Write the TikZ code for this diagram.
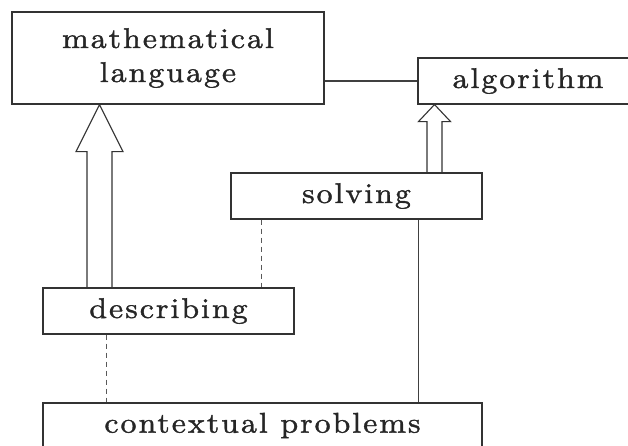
\documentclass[tikz,border=0pt]{standalone}
\usepackage{fontspec}
\setmainfont{lmroman10-regular.otf}[LetterSpace=7,FakeStretch=1.12,FakeBold=1.3]
\usetikzlibrary{calc}
\newcommand\hollowarr[5]{%
  \draw[hollow] ($(#1)+(-#3,0)$) -- ($(#2)+(-#3,#5)$) -- ($(#2)+(-#4,#5)$) -- (#2)
    -- ($(#2)+(#4,#5)$) -- ($(#2)+(#3,#5)$) -- ($(#1)+(#3,0)$);}
\begin{document}
\begin{tikzpicture}[x=1pt,y=-1pt,
  box/.style={draw=black!80,line width=1.1pt,inner sep=0pt,align=center,text=black!85,
    font=\fontsize{28.5}{34}\selectfont},
  link/.style={draw=black!75,line width=1.1pt},
  dashlink/.style={link,draw=black!65,line width=1.3pt,dash pattern=on 5pt off 4pt},
  hollow/.style={draw=black!80,line width=1.1pt,line join=miter}]
\useasboundingbox (0,0) rectangle (628,445);
\clip (0,0) rectangle (628,445);
\node[box,minimum width=312pt,minimum height=92pt] (math) at (168,58) {mathematical\\language};
\node[box,minimum width=220pt,minimum height=46pt] (alg) at (528,81) {algorithm};
\node[box,minimum width=251pt,minimum height=46pt] (solv) at (356.5,196) {solving};
\node[box,minimum width=251pt,minimum height=46pt] (desc) at (168.5,311) {describing};
\node[box,minimum width=439pt,minimum height=45pt] (ctx) at (262.5,425.5) {contextual problems};
% hollow arrows
\coordinate (a1) at (99.5,0);
\coordinate (a1b) at (a1 |- desc.north);
\coordinate (a1t) at (a1 |- math.south);
\hollowarr{a1b}{a1t}{12.5}{23.5}{47}
\coordinate (a2) at (434.5,0);
\coordinate (a2b) at (a2 |- solv.north);
\coordinate (a2t) at (a2 |- alg.south);
\hollowarr{a2b}{a2t}{7.5}{16}{17}
% plain connectors
\draw[link] (alg.west) -- (alg.west -| math.east);
\coordinate (s1) at ($(solv.south west)+(188,0)$);
\draw[link] (s1) -- (s1 |- ctx.north);
\coordinate (d1) at ($(solv.south west)+(31,0)$);
\draw[dashlink] (d1) -- (d1 |- desc.north);
\coordinate (d2) at ($(desc.south west)+(64,0)$);
\draw[dashlink] (d2) -- (d2 |- ctx.north);
\end{tikzpicture}
\end{document}
